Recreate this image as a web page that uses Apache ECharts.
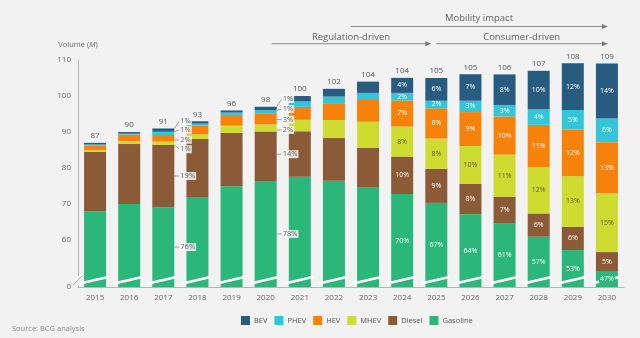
<!DOCTYPE html>
<html>
<head>
<meta charset="utf-8">
<script src="https://cdn.jsdelivr.net/npm/echarts@6/dist/echarts.min.js"></script>
<style>
  html, body { margin: 0; padding: 0; background: #f2f2f2; }
  #chart { width: 640px; height: 338px; }
</style>
</head>
<body>
<div id="chart"></div>
<script>
// Global light-vehicle sales volume by powertrain, millions of units
const years = ['2015', '2016', '2017', '2018', '2019', '2020', '2021', '2022',
               '2023', '2024', '2025', '2026', '2027', '2028', '2029', '2030'];
const totals = [87, 90, 91, 93, 96, 98, 100, 102, 104, 104, 105, 105, 106, 107, 108, 109];

// Powertrain shares of each year's total (%)
const bevPct      = [0.5, 0.5, 1, 0.7, 0.6, 1, 1.5, 2.1, 3.0, 4, 6, 7, 8, 10, 12, 14];
const phevPct     = [0.3, 0.3, 1, 0.6, 1.0, 1, 1.5, 1.8, 1.9, 2, 2, 3, 3, 4, 5, 6];
const hevPct      = [1.5, 2.0, 2, 2.6, 2.8, 3, 3.6, 4.6, 5.8, 7, 8, 9, 10, 11, 12, 13];
const mhevPct     = [0.5, 0.9, 1, 1.4, 2.1, 2, 3.2, 4.9, 7.0, 8, 8, 10, 11, 12, 13, 15];
const dieselPct   = [19, 18.5, 19, 17.3, 15.4, 14, 12.6, 11.6, 10.6, 10, 9, 8, 7, 6, 6, 5];
const gasolinePct = [78.2, 77.8, 76, 77.4, 78.1, 78, 77.6, 75.0, 71.7, 70, 67, 64, 61, 57, 53, 47];

const yTicks = [60, 70, 80, 90, 100, 110];
const yearsLabelledInside = ['2024', '2025', '2026', '2027', '2028', '2029', '2030'];
const yearsLabelledOutside = ['2017', '2020'];

// Axis is broken between 0 and this value; the bottom of the plot reads "0"
const AXIS_FLOOR = 47;
const BREAK_LO = 48.0;
const BREAK_HI = 49.8;

const FONT = 'Open Sans, Noto Sans, sans-serif';
const BG = '#f2f2f2';

// Vertical nudges for the call-out labels of thin segments (px)
const calloutShift = {
  '2017': { BEV: -9, PHEV: -3.5, HEV: 1.5, MHEV: 6 },
  '2020': { BEV: -9.5, PHEV: -3, HEV: 0.5, MHEV: 2, Diesel: -2 }
};

function powertrainSeries(name, pct, color, insideText) {
  return {
    name: name,
    type: 'bar',
    stack: 'volume',
    barWidth: 22,
    itemStyle: { color: color },
    emphasis: { disabled: true },
    data: years.map(function (yr, i) {
      const item = { value: totals[i] * pct[i] / 100 };
      if (yearsLabelledInside.indexOf(yr) >= 0) {
        item.label = {
          show: true, position: 'inside', color: insideText,
          fontFamily: FONT, fontSize: 7, formatter: pct[i] + '%'
        };
      } else if (yearsLabelledOutside.indexOf(yr) >= 0) {
        const dy = (calloutShift[yr] && calloutShift[yr][name]) || 0;
        item.label = {
          show: true, position: 'right', distance: 5, offset: [0, dy],
          color: '#666', fontFamily: FONT, fontSize: 7.5, formatter: pct[i] + '%',
          backgroundColor: 'rgba(246,246,246,0.85)', padding: [0, 1]
        };
        item.labelLine = { show: true, lineStyle: { color: '#8a8a8a', width: 0.8 } };
      }
      return item;
    })
  };
}

const chart = echarts.init(document.getElementById('chart'), null, { renderer: 'canvas' });

const option = {
  backgroundColor: BG,
  animation: false,
  textStyle: { fontFamily: FONT },
  grid: { left: 78, right: 16, top: 60, bottom: 51 },
  legend: {
    data: ['BEV', 'PHEV', 'HEV', 'MHEV', 'Diesel', 'Gasoline'],
    left: 236, top: 311,
    icon: 'rect', itemWidth: 9, itemHeight: 9, itemGap: 7,
    textStyle: { fontFamily: FONT, fontSize: 7.5, color: '#555', padding: [0, 0, 0, -1] },
    selectedMode: false
  },
  xAxis: {
    type: 'category',
    data: years,
    axisLine: { lineStyle: { color: '#b5b5b5', width: 1 } },
    axisTick: { show: false },
    axisLabel: { color: '#666', fontSize: 8, fontFamily: FONT, margin: 7 }
  },
  yAxis: {
    type: 'value',
    min: AXIS_FLOOR,
    max: 110,
    name: 'Volume ({i|M})',
    nameLocation: 'end',
    nameGap: 11,
    nameTextStyle: {
      color: '#666', fontSize: 7.5, fontFamily: FONT,
      rich: { i: { fontStyle: 'italic', color: '#666', fontSize: 7.5, fontFamily: FONT } }
    },
    axisLine: { show: true, lineStyle: { color: '#b5b5b5', width: 1 } },
    axisTick: { show: false },
    splitLine: { show: false },
    axisLabel: {
      color: '#666', fontSize: 8, fontFamily: FONT, margin: 7,
      customValues: [AXIS_FLOOR].concat(yTicks),
      formatter: function (v) { return v === AXIS_FLOOR ? '0' : String(v); }
    }
  },
  series: [
    powertrainSeries('Gasoline', gasolinePct, '#2bb77a', '#ffffff'),
    powertrainSeries('Diesel', dieselPct, '#8b5a36', '#ffffff'),
    powertrainSeries('MHEV', mhevPct, '#cedc32', '#5a5a3a'),
    powertrainSeries('HEV', hevPct, '#f7820b', '#ffffff'),
    powertrainSeries('PHEV', phevPct, '#31c6d8', '#ffffff'),
    powertrainSeries('BEV', bevPct, '#275b7f', '#ffffff'),
    {
      // zero-height cap carrying the yearly total above each stack
      name: 'Total',
      type: 'bar',
      stack: 'volume',
      barWidth: 22,
      silent: true,
      itemStyle: { color: 'rgba(0,0,0,0)' },
      label: {
        show: true, position: 'top', distance: 3,
        color: '#555', fontSize: 8, fontFamily: FONT,
        formatter: function (p) { return totals[p.dataIndex]; }
      },
      data: years.map(function () { return 0; })
    },
    {
      // white slashes marking the broken value axis
      name: 'AxisBreak',
      type: 'custom',
      silent: true,
      z: 2,
      encode: { x: 0 },
      data: years.map(function (y) { return [y]; }),
      renderItem: function (params, api) {
        const i = params.dataIndex;
        const lo = api.coord([api.value(0), BREAK_LO]);
        const hi = api.coord([api.value(0), BREAK_HI]);
        const xa = lo[0] - 15, xb = lo[0] + 13;
        const yAt = function (x) { return lo[1] + (hi[1] - lo[1]) * (x - xa) / (xb - xa); };
        const stroke = { stroke: '#ffffff', lineWidth: 2.6 };
        // leave room for an inside label sitting on a short gasoline segment
        const gasTop = totals[i] * gasolinePct[i] / 100;
        const labelled = yearsLabelledInside.indexOf(years[i]) >= 0 && gasTop < 53;
        const pieces = labelled
          ? [[xa, lo[0] - 8], [lo[0] + 8, xb]]
          : [[xa, xb]];
        const children = pieces.map(function (p) {
          return {
            type: 'line', z2: 1.9,
            shape: { x1: p[0], y1: yAt(p[0]), x2: p[1], y2: yAt(p[1]) },
            style: stroke
          };
        });
        if (i === 0) {
          const gx = params.coordSys.x;
          children.push({
            type: 'rect',
            z2: 1.9,
            shape: { x: gx - 2, y: hi[1] - 1, width: 4, height: lo[1] - hi[1] + 3 },
            style: { fill: BG }
          });
          children.push({
            type: 'line',
            z2: 1.95,
            shape: { x1: gx - 5, y1: lo[1] + 2, x2: gx + 4, y2: hi[1] - 1 },
            style: { stroke: '#9a9a9a', lineWidth: 0.8 }
          });
        }
        return { type: 'group', children: children };
      }
    }
  ]
};

chart.setOption(option);

// Phase annotations above the plot, anchored on category positions
function xAt(i) { return chart.convertToPixel({ xAxisIndex: 0 }, years[i]); }
const halfStep = (xAt(1) - xAt(0)) / 2;

function arrow(x1, x2, y) {
  return [
    { type: 'line', shape: { x1: x1, y1: y, x2: x2 - 3, y2: y },
      style: { stroke: '#8a8a8a', lineWidth: 1 }, silent: true },
    { type: 'polygon', shape: { points: [[x2 - 5, y - 2.5], [x2 + 1, y], [x2 - 5, y + 2.5]] },
      style: { fill: '#7a7a7a' }, silent: true }
  ];
}
function caption(text, x, y) {
  return {
    type: 'text', x: x, y: y, silent: true,
    style: { text: text, fill: '#5f5f5f', fontSize: 9.5, fontFamily: FONT,
             align: 'center', verticalAlign: 'middle' }
  };
}

const mobStart = xAt(7) + halfStep, mobEnd = xAt(15);
const regStart = xAt(5) + 6, regEnd = xAt(10) - 6;
const conStart = xAt(10), conEnd = xAt(15);

chart.setOption({
  graphic: [].concat(
    arrow(mobStart, mobEnd, 26.5),
    [caption('Mobility impact', (mobStart + mobEnd) / 2, 18)],
    arrow(regStart, regEnd, 43.7),
    [caption('Regulation-driven', (regStart + regEnd) / 2, 37)],
    arrow(conStart, conEnd, 43.7),
    [caption('Consumer-driven', (conStart + conEnd) / 2, 37)],
    [{
      type: 'text', x: 12, y: 329, silent: true,
      style: { text: 'Source: BCG analysis', fill: '#8a8a8a', fontSize: 7.5,
               fontFamily: FONT, verticalAlign: 'middle' }
    }]
  )
});
</script>
</body>
</html>
